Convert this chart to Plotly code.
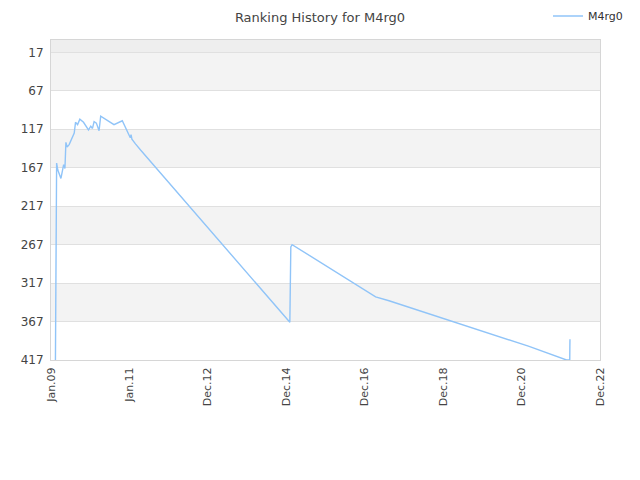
import plotly.graph_objects as go
from datetime import date, timedelta

dates = [
    "2009-02-11", "2009-02-13", "2009-02-16", "2009-02-22", "2009-03-05",
    "2009-04-03", "2009-04-28", "2009-05-10", "2009-05-19", "2009-05-30",
    "2009-06-18", "2009-08-04", "2009-08-16", "2009-09-04", "2009-09-25",
    "2009-10-29", "2009-12-14", "2010-01-04", "2010-01-20", "2010-02-04",
    "2010-02-25", "2010-03-22", "2010-04-06", "2010-05-07", "2010-08-07",
    "2010-10-23", "2010-12-14", "2011-01-05", "2011-01-12", "2011-01-20",
    "2011-02-22", "2011-04-10", "2015-01-21", "2015-01-27", "2015-01-30",
    "2015-02-11", "2017-03-25", "2017-07-27", "2021-02-06", "2022-01-25",
    "2022-02-24", "2022-02-25", "2022-02-26",
]
ranks = [
    417, 300, 290, 161, 170,
    181, 163, 168, 134, 140,
    137, 122, 108, 111, 104,
    108, 118, 113, 116, 107,
    109, 119, 100, 103, 111,
    106, 122, 128, 124, 130,
    136, 144, 368, 287, 270,
    267, 335, 340, 399, 417,
    417, 400, 390,
]

y_ticks = [17, 67, 117, 167, 217, 267, 317, 367, 417]
x_tick_labels = ["Jan.09", "Jan.11", "Dec.12", "Dec.14", "Dec.16", "Dec.18", "Dec.20", "Dec.22"]

x_start = date(2009, 1, 1)
step = 726
x_tick_vals = [(x_start + timedelta(days=step * i)).isoformat() for i in range(len(x_tick_labels))]
x_end = x_tick_vals[-1]

# The page body has an 8px margin, so the figure is drawn 8px right/down.
W, H = 632, 472

fig = go.Figure()
fig.add_trace(go.Scatter(
    x=dates, y=ranks, mode="lines", name="M4rg0",
    line=dict(color="#90c4f8", width=1.4),
))

shapes = []
shapes.append(dict(type="rect", xref="paper", yref="y", x0=0, x1=1, y0=1, y1=y_ticks[0],
                   fillcolor="#eeeeee", line=dict(width=0), layer="below"))
for i in range(len(y_ticks) - 1):
    if i % 2 == 0:
        shapes.append(dict(type="rect", xref="paper", yref="y", x0=0, x1=1,
                           y0=y_ticks[i], y1=y_ticks[i + 1],
                           fillcolor="#f3f3f3", line=dict(width=0), layer="below"))

fig.update_layout(
    width=W, height=H,
    margin=dict(l=43, r=40, t=32, b=120, autoexpand=False),
    paper_bgcolor="white", plot_bgcolor="white",
    font=dict(family="DejaVu Sans", size=11, color="#444444"),
    title=dict(text="Ranking History for M4rg0", x=312 / W, xanchor="center",
               xref="container", yref="container", y=1 - 9 / H, yanchor="middle",
               font=dict(size=13, color="#444444")),
    showlegend=True,
    legend=dict(xref="container", yref="container", x=620 / W, xanchor="right",
                y=1 - 8 / H, yanchor="middle",
                bgcolor="rgba(0,0,0,0)", font=dict(size=11, color="#333333")),
    shapes=shapes,
    xaxis=dict(type="date", range=[x_start.isoformat(), x_end], tickvals=x_tick_vals,
               ticktext=x_tick_labels, tickangle=-90, showgrid=False, zeroline=False,
               showline=True, linecolor="#d6d6d6", mirror=True, ticks="",
               automargin=False, ticklabelstandoff=2,
               tickfont=dict(size=11, color="#444444")),
    yaxis=dict(range=[417, 1], tickvals=y_ticks, showgrid=True, gridcolor="#e0e0e0",
               zeroline=False, showline=True, linecolor="#d6d6d6", mirror=True, ticks="",
               automargin=False, ticklabelstandoff=4,
               tickfont=dict(size=12, color="#444444")),
)

fig.write_html("out.html")
